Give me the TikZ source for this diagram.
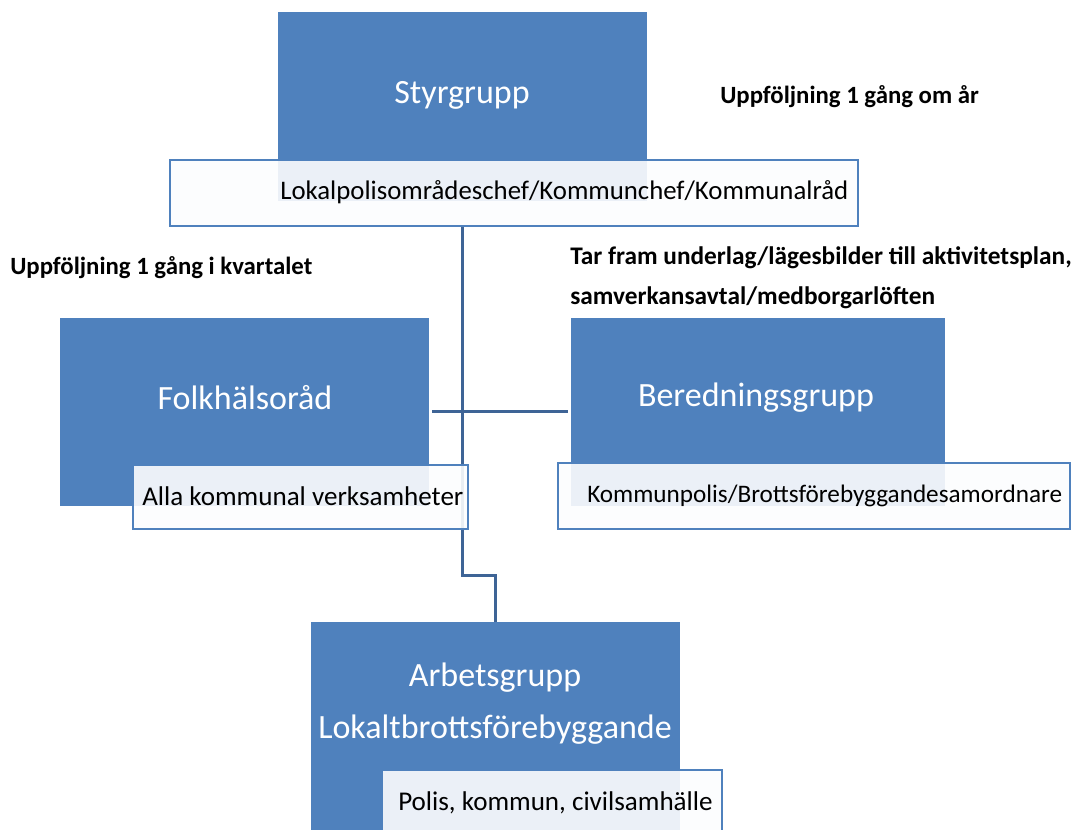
\documentclass[tikz,border=0pt]{standalone}
\usepackage{fontspec}
\setmainfont{Carlito}
\usepackage{tikz}
\usetikzlibrary{calc}
\pgfdeclarelayer{background}
\pgfsetlayers{background,main}

\definecolor{boxblue}{RGB}{79,129,189}
\definecolor{lineblue}{RGB}{62,100,150}
\definecolor{boxwhite}{RGB}{252,253,254}

\begin{document}
\begin{tikzpicture}[x=0.75pt,y=0.75pt,yscale=-1,xscale=1,
    wh/.style 2 args={minimum width=#1*0.75pt,minimum height=#2*0.75pt},
    bluebox/.style={fill=boxblue,inner sep=0pt},
    whitebox/.style={draw=boxblue,line width=2.2pt,fill=boxwhite,fill opacity=0.9,inner sep=0pt},
    titletext/.style={text=white,font=\fontsize{25.5}{39}\selectfont,align=center,inner sep=0.75pt},
    boxtext/.style={font=\fontsize{20.3}{24}\selectfont,anchor=west,inner sep=0.75pt},
    notetext/.style={font=\fontsize{18.6}{30}\selectfont\bfseries,anchor=west,align=left,inner sep=0.75pt},
    conn/.style={draw=lineblue,line width=2.25pt}]
    \useasboundingbox (0,0) rectangle (1075,830);
    \clip (0,0) rectangle (1075,830);

    %Shape: Rectangle Styrgrupp
    \node[bluebox,wh={369}{189}] (sty) at (462.5,106.5) {};
    \node[whitebox,wh={688}{66}] (styW) at (514,193) {};
    %Shape: Rectangle Folkhalsorad
    \node[bluebox,wh={369}{188}] (folk) at (244.5,412) {};
    \node[whitebox,wh={335}{64}] (folkW) at (300.5,497) {};
    %Shape: Rectangle Beredningsgrupp
    \node[bluebox,wh={374}{188}] (bered) at (758,412) {};
    \node[whitebox,wh={512}{66}] (beredW) at (814,496) {};
    %Shape: Rectangle Arbetsgrupp
    \node[bluebox,wh={369}{228}] (arb) at (495.5,736) {};
    \node[whitebox,wh={340}{90}] (arbW) at (552,815) {};

    \coordinate (jn) at (462.5,575);

    \begin{pgfonlayer}{background}
    %Straight Lines
    \draw[conn] (styW.south -| sty.south) -- (jn) -| (arb.north);
    %Straight Lines
    \draw[conn] ([xshift=2.25pt]folk.east) -- ([xshift=-2.25pt]bered.west);
    \end{pgfonlayer}

    % Text Node
    \node[titletext] (styT) at (462,95) {Styrgrupp};
    % Text Node
    \node[boxtext,font=\fontsize{20.1}{24}\selectfont] (styL) at (279,192) {Lokalpolisområdeschef/Kommunchef/Kommunalråd};
    % Text Node
    \node[titletext] (folkT) at (245,398) {Folkhälsoråd};
    % Text Node
    \node[boxtext] (folkL) at (141,496) {Alla kommunal verksamheter};
    % Text Node
    \node[titletext] (beredT) at (756,398) {Beredningsgrupp};
    % Text Node
    \node[boxtext,font=\fontsize{18.9}{22}\selectfont] (beredL) at (586,496) {Kommunpolis/Brottsförebyggandesamordnare};
    % Text Node
    \node[titletext] (arbT) at (495,704) {Arbetsgrupp\\Lokaltbrottsförebyggande};
    % Text Node
    \node[boxtext] (arbL) at (397,803) {Polis, kommun, civilsamhälle};
    % Text Node
    \node[notetext] (noteA) at (719,97) {Uppföljning 1 gång om år};
    % Text Node
    \node[notetext] (noteB) at (9,268) {Uppföljning 1 gång i kvartalet};
    % Text Node
    \node[notetext,font=\fontsize{19}{30}\selectfont\bfseries] (noteC) at (569,278) {Tar fram underlag/lägesbilder till aktivitetsplan,\\samverkansavtal/medborgarlöften};

\end{tikzpicture}
\end{document}
